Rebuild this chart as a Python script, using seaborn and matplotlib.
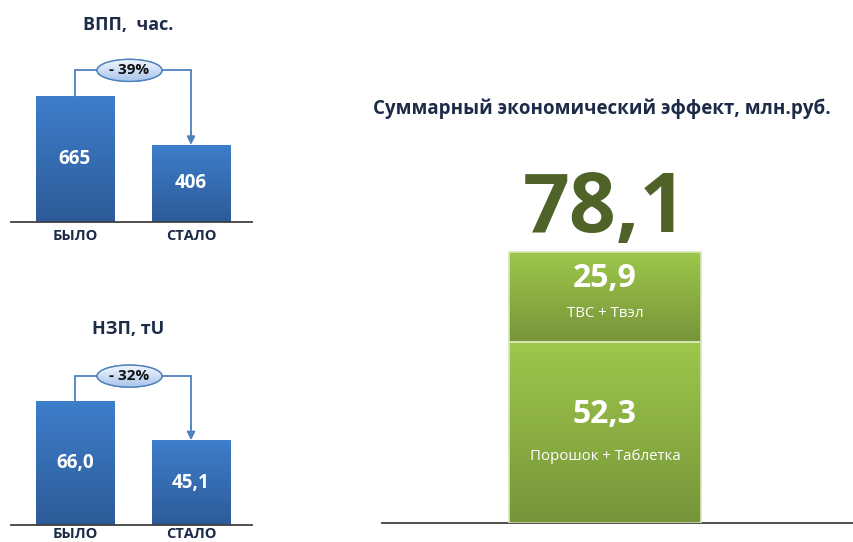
import numpy as np
import pandas as pd
import matplotlib
matplotlib.use("Agg")
import matplotlib.pyplot as plt
import seaborn as sns
from matplotlib.colors import LinearSegmentedColormap
from matplotlib.patches import Ellipse

# ---------------- data ----------------
stages = ["БЫЛО", "СТАЛО"]
vpp_values = [665, 406]
vpp_labels = ["665", "406"]
vpp_change = "- 39%"
vpp_title = "ВПП,  час."

nzp_values = [66.0, 45.1]
nzp_labels = ["66,0", "45,1"]
nzp_change = "- 32%"
nzp_title = "НЗП, тU"

effect_parts = ["Порошок + Таблетка", "ТВС + Твэл"]
effect_values = [52.3, 25.9]
effect_labels = ["52,3", "25,9"]
effect_total_label = "78,1"
effect_title = "Суммарный экономический эффект, млн.руб."

# ---------------- style ----------------
sns.set_theme(style="white")
plt.rcParams["font.family"] = ["Open Sans", "DejaVu Sans"]

W, H = 854, 542
fig = plt.figure(figsize=(W / 100, H / 100), dpi=100)
fig.patch.set_facecolor("white")

NAVY = "#1C2B47"
BLUE_TOP, BLUE_BOT = "#3E7ECB", "#2D5B98"
GREEN_TOP, GREEN_BOT = "#9EC74B", "#76953A"
LINE_BLUE = "#4F81BD"


def px_axes(l, r, t, b):
    return fig.add_axes([l / W, (H - b) / H, (r - l) / W, (b - t) / H])


def gradient_fill(ax, patch, top, bot):
    x0, y0 = patch.get_x(), patch.get_y()
    w, h = patch.get_width(), patch.get_height()
    cmap = LinearSegmentedColormap.from_list("g", [bot, top])
    grad = np.linspace(0, 1, 256).reshape(-1, 1)
    im = ax.imshow(grad, extent=(x0, x0 + w, y0, y0 + h), origin="lower",
                   cmap=cmap, aspect="auto", zorder=patch.get_zorder() + 0.1,
                   interpolation="bilinear")
    im.set_clip_path(patch)


def small_chart(l, r, t, b, values, labels, change, title, title_y, ppu, pad):
    ax = px_axes(l, r, t, b)
    df = pd.DataFrame({"stage": stages, "value": values})
    sns.barplot(data=df, x="stage", y="value", color=BLUE_TOP, width=0.68,
                ax=ax, linewidth=0, saturation=1)
    step = 116.0
    ax.set_xlim(-(75 - 11) / step, 1 + (252 - 191) / step)
    ax.set_ylim(0, (b - t) / ppu)
    for p in ax.patches:
        gradient_fill(ax, p, BLUE_TOP, BLUE_BOT)
    for i, (v, lab) in enumerate(zip(values, labels)):
        ax.text(i, v / 2, lab, ha="center", va="center", color="white",
                fontsize=13.5, fontweight="bold", zorder=5)
    # bracket
    level = max(values) * 1.2
    ax.plot([0, 0, 1, 1], [values[0], level, level, values[1] + 12 / ppu],
            color=LINE_BLUE, lw=1.3, zorder=4, solid_joinstyle="miter")
    ax.annotate("", xy=(1, values[1]), xytext=(1, values[1] + 13 / ppu),
                arrowprops=dict(arrowstyle="-|>", color=LINE_BLUE, lw=1.3,
                                mutation_scale=12, shrinkA=0, shrinkB=0),
                zorder=4)
    cx = 0.47
    ell = Ellipse((cx, level), width=65 / step, height=22 / ppu,
                  facecolor="#C9DCF4", edgecolor=LINE_BLUE, lw=1.0, zorder=6)
    ax.add_patch(ell)
    ecmap = LinearSegmentedColormap.from_list("e", ["#A9C5EC", "#F2F7FD"])
    im = ax.imshow(np.linspace(0, 1, 64).reshape(-1, 1),
                   extent=(cx - 33 / step, cx + 33 / step,
                           level - 11 / ppu, level + 11 / ppu),
                   origin="lower", cmap=ecmap, aspect="auto", zorder=6.5)
    im.set_clip_path(ell)
    ell2 = Ellipse((cx, level), width=65 / step, height=22 / ppu,
                   facecolor="none", edgecolor=LINE_BLUE, lw=1.0, zorder=7)
    ax.add_patch(ell2)
    ax.text(cx, level, change, ha="center", va="center", fontsize=11,
            fontweight="bold", color="#111111", zorder=8)
    ax.set_xlim(-(75 - 11) / step, 1 + (252 - 191) / step)
    ax.set_ylim(0, (b - t) / ppu)
    ax.set_xlabel("")
    ax.set_ylabel("")
    ax.set_yticks([])
    ax.tick_params(axis="x", length=0, pad=pad)
    for tl in ax.get_xticklabels():
        tl.set_fontweight("bold")
        tl.set_fontsize(10.5)
        tl.set_color(NAVY)
    for s in ["top", "left", "right"]:
        ax.spines[s].set_visible(False)
    ax.spines["bottom"].set_color("#404040")
    ax.spines["bottom"].set_linewidth(1.3)
    ax.patch.set_alpha(0)
    fig.text(128 / W, 1 - title_y / H, title, ha="center", va="center",
             fontsize=13, fontweight="bold", color=NAVY)
    return ax


small_chart(11, 252, 40, 222, vpp_values, vpp_labels, vpp_change, vpp_title, 25, 0.19, 5)
small_chart(11, 252, 345, 525, nzp_values, nzp_labels, nzp_change, nzp_title, 329, 1.88, 1.5)

# ---------------- right stacked bar ----------------
ppu = 3.46
axr = px_axes(382, 854, 160, 523)
bottoms = [0, effect_values[0]]
for part, v, b0 in zip(effect_parts, effect_values, bottoms):
    sns.barplot(x=["Эффект"], y=[v], bottom=b0, color=GREEN_TOP, width=0.8,
                ax=axr, linewidth=1.2, edgecolor="#D6E7B4", saturation=1)
unit = 240.0
axr.set_xlim(-(605 - 382) / unit, (854 - 605) / unit)
axr.set_ylim(0, (523 - 160) / ppu)
for p in axr.patches:
    gradient_fill(axr, p, GREEN_TOP, GREEN_BOT)
for p in axr.patches:
    p.set_zorder(3)
    p.set_facecolor("none")
axr.set_xlim(-(605 - 382) / unit, (854 - 605) / unit)
axr.set_ylim(0, (523 - 160) / ppu)

for v, b0, lab, part in zip(effect_values, bottoms, effect_labels, effect_parts):
    if v > 40:
        yv, yp = b0 + v * 0.60, b0 + v * 0.37
    else:
        yv, yp = b0 + v * 0.71, b0 + v * 0.32
    axr.text(0, yv, lab, ha="center", va="center", color="white",
             fontsize=23, fontweight="bold", zorder=6)
    axr.text(0, yp, part, ha="center", va="center", color="white",
             fontsize=10.8, zorder=6)

axr.text(0, sum(effect_values) + 20 / ppu, effect_total_label, ha="center",
         va="baseline", fontsize=59, fontweight="bold", color="#4F6228",
         zorder=6)

axr.set_xlabel("")
axr.set_ylabel("")
axr.set_xticks([])
axr.set_yticks([])
for s in ["top", "left", "right"]:
    axr.spines[s].set_visible(False)
axr.spines["bottom"].set_color("#404040")
axr.spines["bottom"].set_linewidth(1.3)
axr.patch.set_alpha(0)

fig.text(602 / W, 1 - 109 / H, effect_title, ha="center", va="center",
         fontsize=13.5, fontweight="bold", color=NAVY)

fig.savefig("out.png", dpi=100, facecolor="white")
